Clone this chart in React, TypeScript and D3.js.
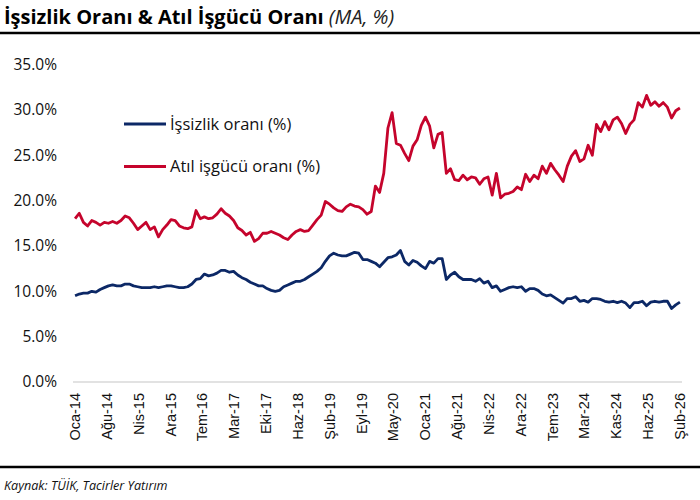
import React from "react";
import * as d3 from "d3";

// Monthly series, Oca-14 .. Şub-26 (146 months)
const unemployment: number[] = [
  9.5, 9.7, 9.8, 9.8, 10.0, 9.9, 10.2, 10.4, 10.6, 10.7, 10.6, 10.6, 10.8, 10.8, 10.6, 10.5, 10.4, 10.4, 10.4, 10.5,
  10.4, 10.5, 10.6, 10.6, 10.5, 10.4, 10.4, 10.5, 10.8, 11.3, 11.4, 11.9, 11.7, 11.8, 12.0, 12.3, 12.3, 12.1, 12.2, 11.8,
  11.5, 11.3, 11.0, 10.8, 10.6, 10.6, 10.3, 10.1, 10.0, 10.1, 10.5, 10.7, 10.9, 11.1, 11.1, 11.3, 11.6, 11.9, 12.2, 12.6,
  13.3, 13.9, 14.2, 14.0, 13.9, 13.9, 14.1, 14.3, 14.2, 13.5, 13.5, 13.3, 13.1, 12.7, 13.2, 13.7, 13.8, 14.0, 14.5, 13.3,
  12.9, 13.4, 13.2, 12.8, 12.5, 13.3, 13.1, 13.6, 13.6, 11.3, 11.8, 12.1, 11.6, 11.3, 11.3, 11.3, 11.1, 11.4, 10.9, 11.1,
  10.4, 10.6, 10.0, 10.2, 10.4, 10.5, 10.4, 10.5, 10.0, 10.3, 10.3, 10.1, 9.7, 9.5, 9.6, 9.3, 9.0, 8.7, 9.2, 9.2,
  9.4, 8.9, 9.0, 8.8, 9.2, 9.2, 9.1, 8.9, 8.8, 8.9, 8.75, 8.9, 8.7, 8.2, 8.75, 8.75, 8.9, 8.4, 8.8, 8.9,
  8.8, 8.9, 8.9, 8.1, 8.5, 8.8,
];

const underutilization: number[] = [
  18.0, 18.6, 17.6, 17.2, 17.8, 17.6, 17.3, 17.6, 17.5, 17.7, 17.5, 17.8, 18.3, 18.1, 17.5, 16.8, 17.2, 17.6, 16.8, 17.1,
  16.0, 16.8, 17.3, 17.9, 17.8, 17.2, 17.0, 16.9, 17.1, 18.9, 18.0, 18.2, 18.0, 18.1, 18.5, 19.1, 18.6, 18.3, 17.8, 17.0,
  16.7, 16.2, 16.5, 15.5, 15.8, 16.4, 16.4, 16.6, 16.4, 16.2, 15.9, 15.7, 16.2, 16.6, 16.8, 16.6, 16.7, 17.3, 17.9, 18.4,
  19.9, 19.6, 19.2, 18.9, 18.8, 19.3, 19.6, 19.4, 19.3, 19.0, 18.5, 18.8, 21.6, 20.9, 23.0, 28.0, 29.7, 26.3, 26.1, 25.2,
  24.4, 26.0, 26.7, 28.3, 29.2, 28.2, 25.8, 27.3, 27.5, 23.0, 23.5, 22.3, 22.2, 22.8, 22.3, 22.6, 22.5, 21.8, 22.4, 22.6,
  20.6, 23.0, 20.3, 20.7, 20.8, 21.0, 21.5, 21.2, 22.9, 22.1, 22.8, 22.4, 23.8, 23.0, 24.1, 23.4, 22.8, 22.1, 23.8, 24.9,
  25.5, 24.3, 24.6, 26.1, 25.0, 28.4, 27.6, 28.7, 27.8, 28.9, 29.2, 28.5, 27.4, 28.4, 28.9, 30.8, 30.3, 31.6, 30.5, 30.9,
  30.4, 30.8, 30.3, 29.1, 29.9, 30.2,
];

const tickLabels: string[] = [
  "Oca-14", "Ağu-14", "Nis-15", "Ara-15", "Tem-16", "Mar-17", "Eki-17", "Haz-18", "Şub-19", "Eyl-19",
  "May-20", "Oca-21", "Ağu-21", "Nis-22", "Ara-22", "Tem-23", "Mar-24", "Kas-24", "Haz-25", "Şub-26",
];

const yTicks: number[] = [0, 5, 10, 15, 20, 25, 30, 35];

const seriesNames: string[] = ["İşsizlik oranı (%)", "Atıl işgücü oranı (%)"];
const seriesColors: string[] = ["#0c2866", "#c5042c"];

const W = 700;
const H = 500;
const plotLeft = 73;
const plotRight = 682;
const plotTop = 64.5;
const plotBottom = 382;

export default function App() {
  const n = unemployment.length;
  const x = d3
    .scalePoint<number>()
    .domain(d3.range(n))
    .range([plotLeft, plotRight])
    .padding(0.5);
  const y = d3.scaleLinear().domain([0, 35]).range([plotBottom, plotTop]);

  const line = d3
    .line<number>()
    .x((_, i) => x(i) as number)
    .y((d) => y(d));

  const xAt = (k: number) => {
    const pos = (k * (n - 1)) / (tickLabels.length - 1);
    const x0 = x(0) as number;
    const x1 = x(n - 1) as number;
    return x0 + ((x1 - x0) * pos) / (n - 1);
  };

  const sans = "'Open Sans', 'Noto Sans', sans-serif";
  const arial = "'Liberation Sans', Arial, sans-serif";

  const series = [unemployment, underutilization];

  return (
    <svg
      width={W}
      height={H}
      style={{ position: "absolute", left: 0, top: 0, background: "#fff" }}
    >
      {/* Title */}
      <text x={4} y={24} fontFamily={sans} fontSize={20} fill="#000">
        <tspan fontWeight="bold">İşsizlik Oranı &amp; Atıl İşgücü Oranı</tspan>
        <tspan fontStyle="italic" dx={5} fill="#222">(MA, %)</tspan>
      </text>
      <line x1={0} x2={W} y1={33} y2={33} stroke="#000" strokeWidth={2.5} />

      {/* Y axis labels */}
      {yTicks.map((t) => (
        <text
          key={t}
          x={57}
          y={y(t)}
          dy="0.35em"
          textAnchor="end"
          fontFamily={sans}
          fontSize={15.5}
          fill="#111"
        >
          {t.toFixed(1)}%
        </text>
      ))}

      {/* baseline */}
      <line
        x1={plotLeft}
        x2={plotRight}
        y1={y(0)}
        y2={y(0)}
        stroke="#d9d9d9"
        strokeWidth={1.5}
      />

      {/* X labels */}
      {tickLabels.map((lab, k) => {
        const xx = xAt(k);
        return (
          <text
            key={lab}
            transform={`translate(${xx + 5},${393}) rotate(-90)`}
            textAnchor="end"
            fontFamily={arial}
            fontSize={14.5}
            fill="#111"
          >
            {lab}
          </text>
        );
      })}

      {/* Lines */}
      {series.map((s, i) => (
        <path
          key={i}
          d={line(s) || ""}
          fill="none"
          stroke={seriesColors[i]}
          strokeWidth={2.8}
          strokeLinejoin="round"
        />
      ))}

      {/* Legend */}
      {seriesNames.map((name, i) => {
        const ly = 124 + i * 42.5;
        return (
          <g key={name}>
            <line x1={124} x2={166} y1={ly} y2={ly} stroke={seriesColors[i]} strokeWidth={3} />
            <text x={170} y={ly} dy="0.35em" fontFamily={sans} fontSize={16.5} fill="#111">
              {name}
            </text>
          </g>
        );
      })}

      {/* Bottom rule and source */}
      <line x1={0} x2={W} y1={467} y2={467} stroke="#000" strokeWidth={2.5} />
      <text x={4} y={490} fontFamily={sans} fontSize={12.6} fontStyle="italic" fill="#111">
        Kaynak: TÜİK, Tacirler Yatırım
      </text>
    </svg>
  );
}
